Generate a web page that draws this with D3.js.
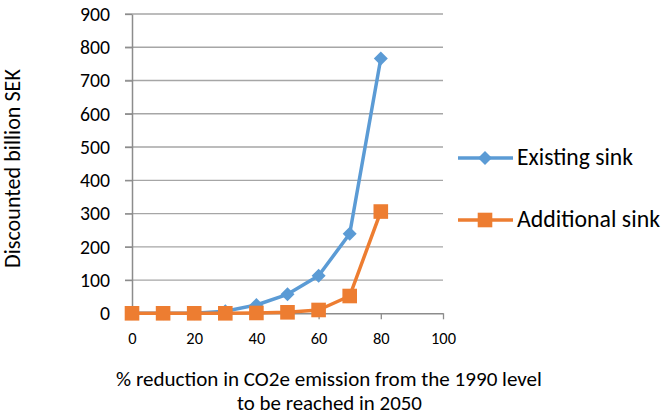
<!DOCTYPE html>
<html>
<head>
<meta charset="utf-8">
<script src="https://cdn.jsdelivr.net/npm/d3@7"></script>
<style>
  body { margin: 0; background: #fff; }
  svg { font-family: Carlito, Lato, "Open Sans", sans-serif; }
</style>
</head>
<body>
<svg width="661" height="415"></svg>
<script>
// data
var reduction = [0, 10, 20, 30, 40, 50, 60, 70, 80];
var existingSink = [0, 0, 0, 6, 25, 57, 113, 239, 766];
var additionalSink = [0, 0, 0, 0, 1, 3, 10, 52, 306];
var xTicks = [0, 20, 40, 60, 80, 100];
var yTicks = [0, 100, 200, 300, 400, 500, 600, 700, 800, 900];

var series = [
  { name: "Existing sink", values: existingSink, color: "#5B9BD5", marker: "diamond" },
  { name: "Additional sink", values: additionalSink, color: "#ED7D31", marker: "square" }
];

// font size that makes a text as wide as the reference text
function fitSize(sel, target) {
  var len = sel.node().getComputedTextLength();
  var fs = parseFloat(sel.attr("font-size"));
  return (fs * target / len).toFixed(2);
}
function fitWidth(sel, target) {
  sel.attr("font-size", fitSize(sel, target));
}

var svg = d3.select("svg");
var margin = { top: 14, right: 218, bottom: 101.7, left: 132 };
var width = 661 - margin.left - margin.right;
var height = 415 - margin.top - margin.bottom;

var g = svg.append("g").attr("transform", "translate(" + margin.left + "," + margin.top + ")");

var x = d3.scaleLinear().domain([0, 100]).range([0, width]);
var y = d3.scaleLinear().domain([0, 900]).range([height, 0]);

// horizontal gridlines
g.append("g")
 .selectAll("line")
 .data(yTicks.slice(1))
 .enter().append("line")
 .attr("x1", -7).attr("x2", width)
 .attr("y1", d => y(d)).attr("y2", d => y(d))
 .attr("stroke", "#A6A6A6").attr("stroke-width", 1.3);

// y axis
var yAxis = g.append("g")
 .call(d3.axisLeft(y).tickValues(yTicks).tickSize(7).tickPadding(15).tickSizeOuter(0));
yAxis.select(".domain").attr("stroke", "#8C8C8C").attr("stroke-width", 1.5);
yAxis.selectAll(".tick line").attr("stroke", "#8C8C8C").attr("stroke-width", 1.3);
var yLabels = yAxis.selectAll("text").attr("font-size", 17.5).attr("fill", "#000")
     .attr("font-family", "Carlito, Lato, 'Open Sans', sans-serif");
yLabels.attr("font-size", fitSize(yLabels.filter(d => d === 900), 30));

// x axis
var xAxis = g.append("g")
 .attr("transform", "translate(0," + height + ")")
 .call(d3.axisBottom(x).tickValues(xTicks).tickSize(6).tickPadding(13).tickSizeOuter(0));
xAxis.select(".domain").attr("stroke", "#8C8C8C").attr("stroke-width", 1.5);
xAxis.selectAll(".tick line").attr("stroke", "#8C8C8C").attr("stroke-width", 1.3);
var xLabels = xAxis.selectAll("text").attr("font-size", 14).attr("fill", "#000")
     .attr("font-family", "Carlito, Lato, 'Open Sans', sans-serif");
xLabels.attr("font-size", fitSize(xLabels.filter(d => d === 100), 25));

var line = d3.line()
  .x((d, i) => x(reduction[i]))
  .y(d => y(d));

function drawMarker(sel, type, color) {
  if (type === "diamond") {
    sel.append("path").attr("d", "M0,-7L7,0L0,7L-7,0Z").attr("fill", color);
  } else {
    sel.append("rect").attr("x", -7.3).attr("y", -7.3).attr("width", 14.6).attr("height", 14.6).attr("fill", color);
  }
}

series.forEach(function(s) {
  g.append("path")
   .datum(s.values)
   .attr("fill", "none")
   .attr("stroke", s.color)
   .attr("stroke-width", 3.5)
   .attr("stroke-linejoin", "round")
   .attr("d", line);

  g.selectAll(".m-" + s.marker)
   .data(s.values)
   .enter().append("g")
   .attr("class", "m-" + s.marker)
   .attr("transform", (d, i) => "translate(" + x(reduction[i]) + "," + y(d) + ")")
   .each(function() { drawMarker(d3.select(this), s.marker, s.color); });
});

// legend
var legendWidths = [116, 143];
var legend = svg.append("g").attr("transform", "translate(458,158)");
series.forEach(function(s, i) {
  var lg = legend.append("g").attr("transform", "translate(0," + (i * 62) + ")");
  lg.append("line").attr("x1", 0).attr("x2", 55).attr("y1", 0).attr("y2", 0)
    .attr("stroke", s.color).attr("stroke-width", 3.5);
  var m = lg.append("g").attr("transform", "translate(27,0)");
  drawMarker(m, s.marker, s.color);
  var t = lg.append("text").attr("x", 59).attr("y", 7)
    .attr("font-size", 20).attr("fill", "#000").text(s.name);
  fitWidth(t, legendWidths[i]);
});

// axis titles
var yTitle = svg.append("text")
   .attr("transform", "translate(20,168.5) rotate(-90)")
   .attr("text-anchor", "middle")
   .attr("font-size", 18)
   .text("Discounted billion SEK");
fitWidth(yTitle, 199);

var xTitle1 = svg.append("text")
   .attr("x", 329).attr("y", 386)
   .attr("text-anchor", "middle")
   .attr("font-size", 18)
   .text("% reduction in CO2e emission from the 1990 level");
fitWidth(xTitle1, 426);
var xTitle2 = svg.append("text")
   .attr("x", 329.5).attr("y", 410)
   .attr("text-anchor", "middle")
   .attr("font-size", 18)
   .text("to be reached in 2050");
fitWidth(xTitle2, 185);
</script>
</body>
</html>
